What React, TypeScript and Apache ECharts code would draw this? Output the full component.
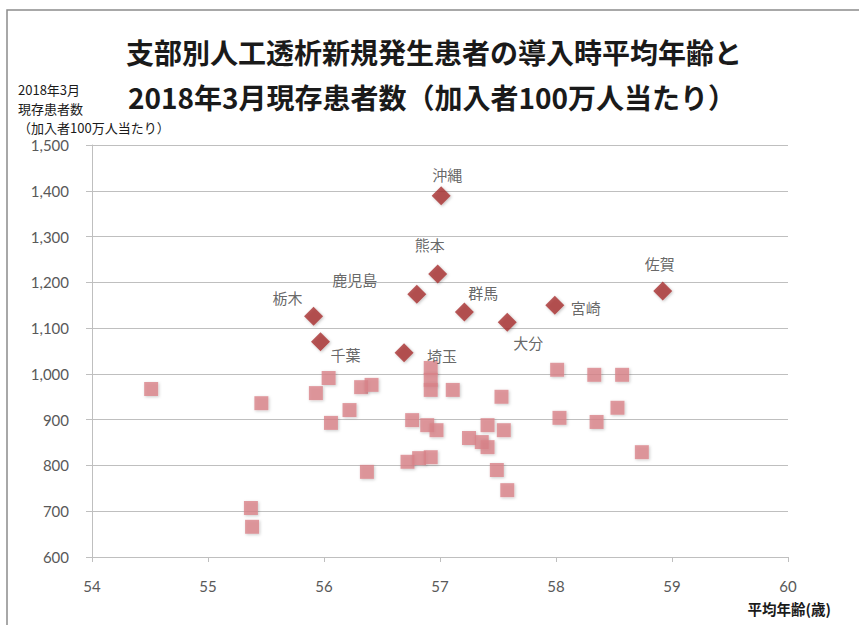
import React, { useEffect, useRef } from "react";
import * as echarts from "echarts";

// 支部別: 導入時平均年齢 (x) と 現存患者数 (y)
const highlightNames = ["沖縄", "熊本", "鹿児島", "栃木", "千葉", "埼玉", "群馬", "大分", "宮崎", "佐賀"];
const highlightAge = [57.01, 56.98, 56.8, 55.91, 55.97, 56.69, 57.21, 57.58, 57.99, 58.92];
const highlightPatients = [1389, 1218, 1174, 1126, 1070, 1046, 1135, 1113, 1150, 1181];

const otherAge = [
  54.51, 55.46, 55.37, 55.38, 55.93, 56.04, 56.06, 56.22, 56.32, 56.41, 56.37, 56.72,
  56.82, 56.92, 56.76, 56.89, 56.97, 56.92, 56.92, 56.92, 57.11, 57.53, 57.25, 57.36,
  57.41, 57.55, 57.41, 57.49, 57.58, 58.01, 58.33, 58.57, 58.03, 58.35, 58.53, 58.74,
];
const otherPatients = [
  967, 936, 707, 666, 958, 991, 893, 921, 971, 976, 786, 808,
  816, 818, 899, 888, 877, 1013, 987, 965, 965, 950, 860, 851,
  888, 877, 840, 790, 746, 1009, 998, 998, 904, 895, 926, 829,
];

const titleLines = ["支部別人工透析新規発生患者の導入時平均年齢と", "2018年3月現存患者数（加入者100万人当たり）"];
const yAxisTitleLines = ["2018年3月", "現存患者数", "（加入者100万人当たり）"];
const xAxisTitle = "平均年齢(歳)";

// label placement (offset from the marker centre) for each highlighted 支部
const labelOffsets: Record<string, [number, number]> = {
  沖縄: [6, -21],
  熊本: [-8, -30],
  鹿児島: [-62, -15],
  栃木: [-26, -19],
  千葉: [25, 13],
  埼玉: [38, 3],
  群馬: [19, -20],
  大分: [21, 20],
  宮崎: [31, 2],
  佐賀: [-3, -28],
};

const JP = '"Noto Sans CJK JP", "Noto Sans", sans-serif';
const NUM = 'Lato, "Noto Sans", sans-serif';

export default function App() {
  const ref = useRef<HTMLDivElement>(null);

  useEffect(() => {
    if (!ref.current) return;
    const chart = echarts.init(ref.current, undefined, { renderer: "svg" });

    const otherData = otherAge.map((a, i) => [a, otherPatients[i]]);
    const highlightData = highlightNames.map((n, i) => ({
      name: n,
      value: [highlightAge[i], highlightPatients[i]],
      label: { offset: labelOffsets[n] },
    }));

    const yTitleTexts = yAxisTitleLines.map((t, i) => ({
      type: "text",
      x: 18,
      y: 89 + i * 19,
      style: {
        text: t,
        fontSize: 13,
        fontFamily: JP,
        fill: "#1a1a1a",
        align: "left",
        verticalAlign: "middle",
      },
    }));

    chart.setOption({
      animation: false,
      backgroundColor: "#ffffff",
      grid: { left: 92, right: 71, top: 145, bottom: 68, containLabel: false },
      xAxis: {
        type: "value",
        min: 54,
        max: 60,
        interval: 1,
        axisLine: { show: true, lineStyle: { color: "#bfbfbf", width: 1 } },
        axisTick: { show: true, length: 5, lineStyle: { color: "#bfbfbf" } },
        splitLine: { show: false },
        axisLabel: { color: "#595959", fontSize: 15, fontFamily: NUM, margin: 21 },
      },
      yAxis: {
        type: "value",
        min: 600,
        max: 1500,
        interval: 100,
        axisLine: { show: true, lineStyle: { color: "#bfbfbf", width: 1 } },
        axisTick: { show: true, inside: false, length: 6, lineStyle: { color: "#bfbfbf" } },
        splitLine: { show: true, lineStyle: { color: "#bfbfbf", width: 1 } },
        axisLabel: {
          color: "#595959",
          fontSize: 15,
          fontFamily: NUM,
          margin: 23,
          formatter: (v: number) => v.toLocaleString("en-US"),
        },
      },
      series: [
        {
          type: "scatter",
          symbol: "rect",
          symbolSize: 14,
          data: otherData,
          itemStyle: {
            color: "#d98389",
            shadowBlur: 3,
            shadowColor: "rgba(0,0,0,0.25)",
            shadowOffsetX: 1,
            shadowOffsetY: 1,
          },
          z: 2,
        },
        {
          type: "scatter",
          symbol: "diamond",
          symbolSize: [19, 19],
          data: highlightData,
          itemStyle: {
            color: "#a7302f",
            shadowBlur: 3,
            shadowColor: "rgba(0,0,0,0.3)",
            shadowOffsetX: 1,
            shadowOffsetY: 1,
          },
          label: {
            show: true,
            position: "inside",
            formatter: "{b}",
            color: "#404040",
            fontSize: 15,
            fontFamily: JP,
          },
          z: 3,
        },
      ],
      graphic: [
        {
          type: "rect",
          shape: { x: 7, y: 10, width: 900, height: 700 },
          style: { fill: "none", stroke: "#8c8c8c", lineWidth: 1.5 },
          silent: true,
        },
        {
          type: "text",
          x: 434,
          y: 52,
          style: {
            text: titleLines[0],
            fontSize: 28,
            fontWeight: "bold",
            fontFamily: JP,
            fill: "#1a1a1a",
            align: "center",
            verticalAlign: "middle",
          },
        },
        {
          type: "text",
          x: 432,
          y: 97,
          style: {
            text: titleLines[1],
            fontSize: 28,
            fontWeight: "bold",
            fontFamily: JP,
            fill: "#1a1a1a",
            align: "center",
            verticalAlign: "middle",
          },
        },
        ...yTitleTexts,
        {
          type: "text",
          x: 831,
          y: 608,
          style: {
            text: xAxisTitle,
            fontSize: 14.5,
            fontWeight: "bold",
            fontFamily: JP,
            fill: "#1a1a1a",
            align: "right",
            verticalAlign: "middle",
          },
        },
      ],
    });

    return () => chart.dispose();
  }, []);

  return (
    <div
      ref={ref}
      style={{ position: "fixed", left: 0, top: 0, width: 859, height: 625 }}
    />
  );
}
